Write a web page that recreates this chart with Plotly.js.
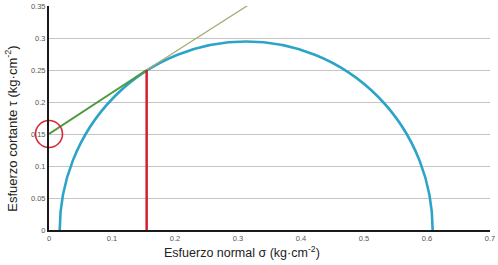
<!DOCTYPE html>
<html><head><meta charset="utf-8">
<script src="https://cdn.plot.ly/plotly-3.0.1.min.js"></script>
<style>html,body{margin:0;padding:0;background:#fff}#c{width:498px;height:265px}</style>
</head><body><div id="c"></div>
<script>
// Mohr circle principal stresses (kg·cm-2)
const sigmaMin = 0.017;
const sigmaMax = 0.609;
// Failure envelope: cohesion point, tangent point, extension end
const envX = [0, 0.155];
const envY = [0.15, 0.25];
const extX = [0.155, 0.322];
const extY = [0.25, 0.355];
// tangent point vertical
const tanX = [0.155, 0.155];
const tanY = [0, 0.25];
// cohesion highlight
const cohX = [0];
const cohY = [0.15];
// ticks
const xTicks = [0, 0.1, 0.2, 0.3, 0.4, 0.5, 0.6, 0.7];
const xTickText = ['0', '0.1', '0.2', '0.3', '0.4', '0.5', '0.6', '0.7'];
const yTicks = [0, 0.05, 0.1, 0.15, 0.2, 0.25, 0.3, 0.35];
const yTickText = ['0', '0.05', '0.1', '0.15', '0.2', '0.25', '0.3', '0.35'];

const center = (sigmaMin + sigmaMax) / 2;
const radius = (sigmaMax - sigmaMin) / 2;

const traces = [
  {x: extX, y: extY, mode: 'lines', line: {color: '#a3ad73', width: 1.3}, hoverinfo: 'skip'},
  {x: envX, y: envY, mode: 'lines', line: {color: '#4e9a3c', width: 2}, hoverinfo: 'skip'},
  {x: tanX, y: tanY, mode: 'lines', line: {color: '#d1202e', width: 2.5}, hoverinfo: 'skip'},
  {x: cohX, y: cohY, mode: 'markers', cliponaxis: false,
   marker: {symbol: 'circle-open', size: 27, color: '#d62a36', line: {width: 1.6, color: '#d62a36'}}, hoverinfo: 'skip'}
];

const font = 'Liberation Sans, Arial, sans-serif';
const layout = {
  width: 498, height: 265,
  margin: {l: 49, r: 8, t: 6, b: 35},
  showlegend: false,
  plot_bgcolor: '#fff', paper_bgcolor: '#fff',
  xaxis: {range: [0, 0.7], tickvals: xTicks, ticktext: xTickText, showgrid: false, zeroline: false,
    showline: true, linecolor: '#1a1a1a', linewidth: 2, ticks: '', ticklen: 0,
    tickfont: {family: font, size: 7.5, color: '#555'}, fixedrange: true},
  yaxis: {range: [0, 0.35], tickvals: yTicks, ticktext: yTickText, showgrid: true, gridcolor: '#c4c4c4', gridwidth: 1,
    zeroline: false, showline: true, linecolor: '#1a1a1a', linewidth: 2, ticks: '', ticklen: 0,
    tickfont: {family: font, size: 7.5, color: '#555'}, fixedrange: true},
  shapes: [{type: 'circle', xref: 'x', yref: 'y', layer: 'between',
    x0: center - radius, x1: center + radius, y0: -radius * 0.995, y1: radius * 0.995,
    line: {color: '#2ca4c8', width: 2.6}}],
  annotations: [
    {text: 'Esfuerzo normal σ (kg·cm<sup>-2</sup>)', xref: 'paper', yref: 'paper', x: 0.438, y: -0.055,
     xanchor: 'center', yanchor: 'top', showarrow: false, font: {family: font, size: 12.5, color: '#222'}},
    {text: 'Esfuerzo cortante τ (kg·cm<sup>-2</sup>)', xref: 'paper', yref: 'paper', x: -0.085, y: 0.45,
     xanchor: 'center', yanchor: 'middle', textangle: -90, showarrow: false, font: {family: font, size: 13, color: '#222'}}
  ]
};
Plotly.newPlot('c', traces, layout, {displayModeBar: false, staticPlot: true});
</script></body></html>
